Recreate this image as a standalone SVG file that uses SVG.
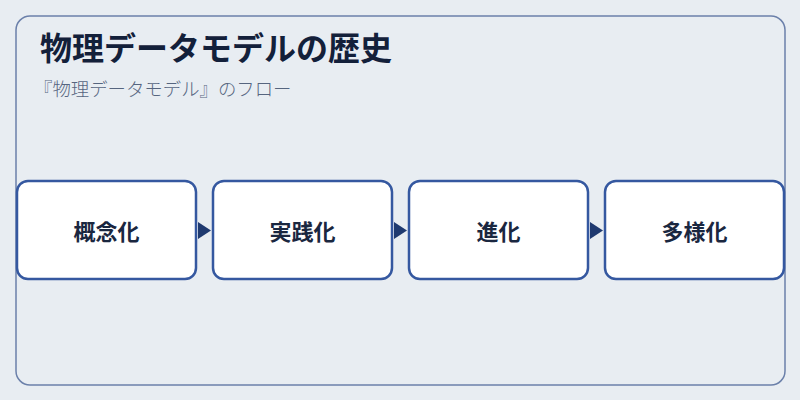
<svg xmlns="http://www.w3.org/2000/svg" width="800" height="400" viewBox="0 0 800 400">
<style>
.frame{fill:#e8edf2;stroke:#6b80aa;stroke-width:1.5}
.box{fill:#ffffff;stroke:#3558a0;stroke-width:2.5}
.lbl{font-family:"Noto Sans CJK JP","Noto Sans",sans-serif;font-size:22px;font-weight:700;fill:#1a2740;text-anchor:middle}
.title{font-family:"Noto Sans CJK JP","Noto Sans",sans-serif;font-size:32px;font-weight:700;fill:#13203a}
.sub{font-family:"Noto Sans CJK JP","Noto Sans",sans-serif;font-size:18.4px;font-weight:300;fill:#56657f}
.arr{fill:#1f3a70}
</style>
<rect width="800" height="400" fill="#e8edf2"/>
<rect class="frame" x="16" y="16" width="769" height="369" rx="14"/>
<text class="title" x="40" y="60">物理データモデルの歴史</text>
<text class="sub" x="34" y="96">『物理データモデル』のフロー</text>
<g id="connectors">
<polygon class="arr" points="198,222 211,230.5 198,239"/>
<polygon class="arr" points="394,222 407,230.5 394,239"/>
<polygon class="arr" points="590,222 603,230.5 590,239"/>
</g>
<g id="n1"><rect class="box" x="17" y="181" width="179" height="98" rx="11"/><text class="lbl" x="106.5" y="240">概念化</text></g>
<g id="n2"><rect class="box" x="213" y="181" width="179" height="98" rx="11"/><text class="lbl" x="302.5" y="240">実践化</text></g>
<g id="n3"><rect class="box" x="409" y="181" width="179" height="98" rx="11"/><text class="lbl" x="498.5" y="240">進化</text></g>
<g id="n4"><rect class="box" x="605" y="181" width="179" height="98" rx="11"/><text class="lbl" x="694.5" y="240">多様化</text></g>
</svg>
